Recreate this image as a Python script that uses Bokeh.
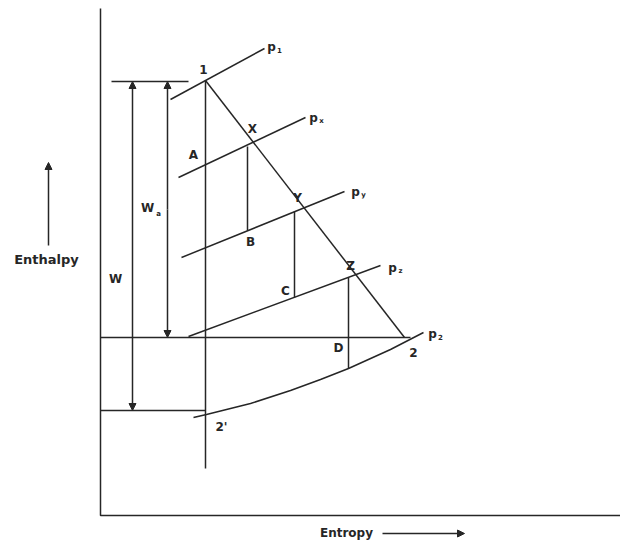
from bokeh.plotting import figure
from bokeh.models import Range1d, Arrow, NormalHead
from bokeh.core.properties import value
from bokeh.embed import file_html
from bokeh.resources import INLINE

# ---- diagram data (page-pixel coordinates, y grows downward) ----
axis_x = [100, 100, 620]
axis_y = [8, 515, 515]

expansion_x = [205, 404]          # line 1 -> 2
expansion_y = [80, 337]

vert1_x = [205, 205]              # vertical through 1 down to 2'
vert1_y = [80, 468]

# constant pressure lines p1, px, py, pz
p_lines_x = [[170, 264], [178, 305], [181, 344], [188, 380]]
p_lines_y = [[99, 48], [177, 117], [257, 191], [336, 265]]

# verticals X->B, Y->C, Z->curve
drops_x = [[247, 247], [294, 294], [348, 348]]
drops_y = [[146, 230], [211, 297], [277, 368]]

# horizontal reference lines
hlines_x = [[111, 188], [100, 410], [100, 205]]
hlines_y = [[81, 81], [337, 337], [410, 410]]

# p2 curve
curve_x = [193, 206, 250, 290, 320, 348, 390, 423]
curve_y = [417, 414, 403, 390, 379, 368, 349, 332]

# point labels
pt_labels = ["1", "X", "Y", "Z", "A", "B", "C", "D", "2", "2'"]
pt_x = [203, 252, 297, 350, 193, 250, 285, 338, 413, 221]
pt_y = [69, 128, 197, 265, 154, 241, 290, 347, 352, 426]

# pressure labels
pr_subs = ["1", "x", "y", "z", "2"]
pr_x = [271, 313, 355, 392, 432]
pr_y = [46, 117, 191, 267, 333]

# dimension arrows (W, Wa)
dim_x = [132, 167]
dim_top = [81, 81]
dim_bottom = [410, 337]

ink = "#262626"
font = value("DejaVu Sans")

p = figure(width=620, height=542, output_backend="svg", toolbar_location=None,
           x_range=Range1d(0, 620), y_range=Range1d(542, 0),
           min_border=0, outline_line_color=None)
p.axis.visible = False
p.grid.visible = False

p.line(axis_x, axis_y, line_color=ink, line_width=1.5)
p.line(expansion_x, expansion_y, line_color=ink, line_width=1.5)
p.line(vert1_x, vert1_y, line_color=ink, line_width=1.5)
p.multi_line(p_lines_x, p_lines_y, line_color=ink, line_width=1.5)
p.multi_line(drops_x, drops_y, line_color=ink, line_width=1.5)
p.multi_line(hlines_x, hlines_y, line_color=ink, line_width=1.5)
p.line(curve_x, curve_y, line_color=ink, line_width=1.5)

for x, t, b in zip(dim_x, dim_top, dim_bottom):
    p.add_layout(Arrow(x_start=x, y_start=(t + b) / 2, x_end=x, y_end=t,
                       line_color=ink, line_width=1.5,
                       end=NormalHead(size=7, fill_color=ink, line_color=ink)))
    p.add_layout(Arrow(x_start=x, y_start=(t + b) / 2, x_end=x, y_end=b,
                       line_color=ink, line_width=1.5,
                       end=NormalHead(size=7, fill_color=ink, line_color=ink)))

# axis direction arrows
p.add_layout(Arrow(x_start=48, y_start=245, x_end=48, y_end=162,
                   line_color=ink, line_width=1.5,
                   end=NormalHead(size=7, fill_color=ink, line_color=ink)))
p.add_layout(Arrow(x_start=382, y_start=533, x_end=464, y_end=533,
                   line_color=ink, line_width=1.5,
                   end=NormalHead(size=7, fill_color=ink, line_color=ink)))

common = dict(text_font=font, text_font_style="bold", text_color=ink,
              text_align="center", text_baseline="middle")

p.text(pt_x, pt_y, text=pt_labels, text_font_size="12px", **common)
p.text(pr_x, pr_y, text=["p"] * len(pr_x), text_font_size="12px", **common)
p.text([x + 8 for x in pr_x], [y + 3 for y in pr_y], text=pr_subs,
       text_font_size="7px", **common)

p.text([147], [207], text=["W"], text_font_size="12px", **common)
p.text([158], [213], text=["a"], text_font_size="7px", **common)
p.text([115], [278], text=["W"], text_font_size="12px", **common)

p.text([46], [259], text=["Enthalpy"], text_font_size="13px", **common)
p.text([346], [532], text=["Entropy"], text_font_size="12px", **common)

open("out.html", "w").write(file_html(p, INLINE))
